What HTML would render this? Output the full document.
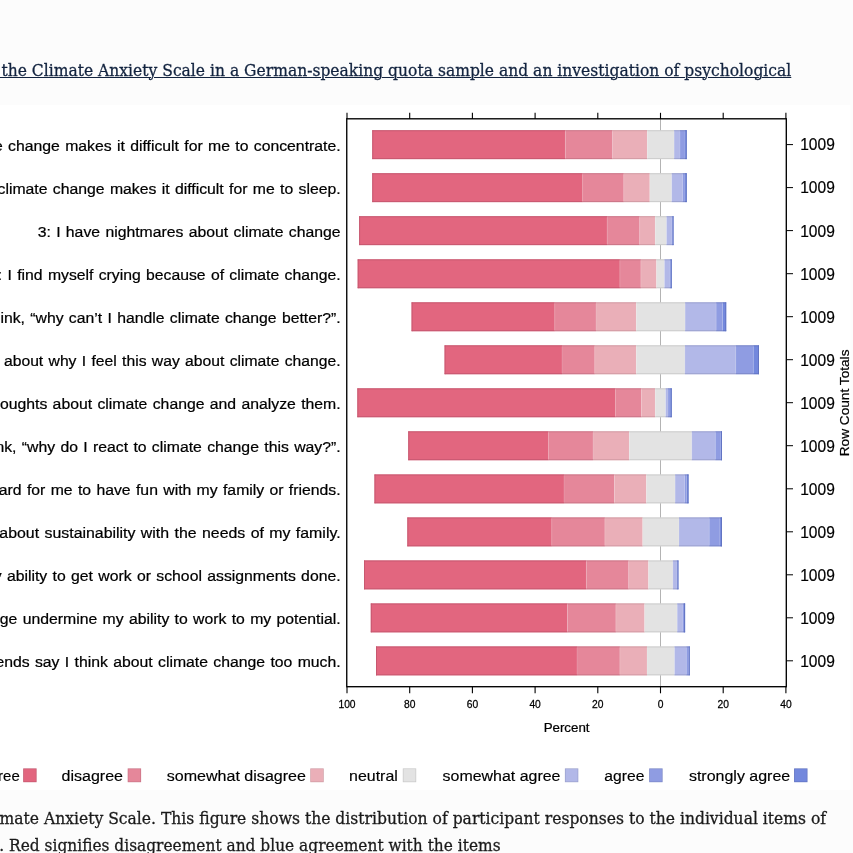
<!DOCTYPE html>
<html><head><meta charset="utf-8"><title>Climate Anxiety Scale figure</title>
<style>
html,body{margin:0;padding:0;}
body{width:853px;height:853px;overflow:hidden;position:relative;background:#fcfcfc;font-family:"DejaVu Serif","Liberation Serif",Georgia,serif;}
.t{position:absolute;white-space:nowrap;font-size:17.0px;line-height:26px;transform-origin:right center;}
.hd{right:61.4px;top:56.5px;color:#12233f;-webkit-text-stroke:0.3px #12233f;transform:scaleX(0.9144);}
.hd a{color:#12233f;text-decoration:underline;text-decoration-thickness:1.3px;text-underline-offset:1.1px;}
.c1{right:26.4px;top:805.3px;color:#1a1a1a;-webkit-text-stroke:0.3px #1a1a1a;transform:scaleX(0.9158);}
.c2{right:352.7px;top:832.1px;color:#1a1a1a;-webkit-text-stroke:0.3px #1a1a1a;transform:scaleX(0.9065);}
</style></head><body>
<div class="t hd"><a>Validation of the Climate Anxiety Scale in a German-speaking quota sample and an investigation of psychological</a></div>
<svg width="853" height="685" viewBox="0 104.5 853 685" style="position:absolute;left:0;top:104.5px" font-family="Liberation Sans, Arial, sans-serif" fill="#000">
<rect x="-5" y="104.5" width="855.3" height="684.8" fill="#ffffff"/>
<line x1="660.5" y1="118.5" x2="660.5" y2="686.5" stroke="#808080" stroke-width="0.6"/>
<rect x="372.3" y="129.8" width="193.0" height="28.8" fill="#E2667F"/>
<rect x="372.3" y="129.8" width="193.0" height="0.9" fill="#C4566E"/>
<rect x="372.3" y="157.7" width="193.0" height="0.9" fill="#C4566E"/>
<rect x="565.3" y="129.8" width="47.3" height="28.8" fill="#E5879A"/>
<rect x="565.3" y="129.8" width="47.3" height="0.9" fill="#C87486"/>
<rect x="565.3" y="157.7" width="47.3" height="0.9" fill="#C87486"/>
<rect x="612.6" y="129.8" width="34.7" height="28.8" fill="#EAAFB8"/>
<rect x="612.6" y="129.8" width="34.7" height="0.9" fill="#CF99A2"/>
<rect x="612.6" y="157.7" width="34.7" height="0.9" fill="#CF99A2"/>
<rect x="647.3" y="129.8" width="26.8" height="28.8" fill="#E3E3E3"/>
<rect x="647.3" y="129.8" width="26.8" height="0.9" fill="#C9C9C9"/>
<rect x="647.3" y="157.7" width="26.8" height="0.9" fill="#C9C9C9"/>
<rect x="674.1" y="129.8" width="5.9" height="28.8" fill="#B2B8E8"/>
<rect x="674.1" y="129.8" width="5.9" height="0.9" fill="#9AA0CC"/>
<rect x="674.1" y="157.7" width="5.9" height="0.9" fill="#9AA0CC"/>
<rect x="680.0" y="129.8" width="5.0" height="28.8" fill="#8F9CE2"/>
<rect x="680.0" y="129.8" width="5.0" height="0.9" fill="#7A86C6"/>
<rect x="680.0" y="157.7" width="5.0" height="0.9" fill="#7A86C6"/>
<rect x="685.0" y="129.8" width="1.7" height="28.8" fill="#7388DD"/>
<rect x="685.0" y="129.8" width="1.7" height="0.9" fill="#6072C0"/>
<rect x="685.0" y="157.7" width="1.7" height="0.9" fill="#6072C0"/>
<rect x="564.9" y="130.7" width="0.8" height="27.0" fill="#fff" fill-opacity="0.18"/>
<rect x="612.2" y="130.7" width="0.8" height="27.0" fill="#fff" fill-opacity="0.18"/>
<rect x="646.9" y="130.7" width="0.8" height="27.0" fill="#fff" fill-opacity="0.18"/>
<rect x="673.7" y="130.7" width="0.8" height="27.0" fill="#fff" fill-opacity="0.18"/>
<rect x="679.6" y="130.7" width="0.8" height="27.0" fill="#fff" fill-opacity="0.18"/>
<rect x="684.6" y="130.7" width="0.8" height="27.0" fill="#fff" fill-opacity="0.18"/>
<rect x="372.3" y="129.8" width="0.9" height="28.8" fill="#C4566E"/>
<rect x="685.8" y="129.8" width="0.9" height="28.8" fill="#6072C0"/>
<text transform="translate(340.6,150.50) scale(1.0320,1)" font-size="15.3" word-spacing="0.92" text-anchor="end" stroke="#000" stroke-width="0.22">1: Thinking about climate change makes it difficult for me to concentrate.</text>
<line x1="786.3" y1="144.1" x2="793" y2="144.1" stroke="#000" stroke-width="1.0"/>
<text transform="translate(800.2,149.90) scale(0.9721,1)" font-size="16" stroke="#000" stroke-width="0.2">1009</text>
<rect x="372.3" y="172.8" width="210.4" height="28.8" fill="#E2667F"/>
<rect x="372.3" y="172.8" width="210.4" height="0.9" fill="#C4566E"/>
<rect x="372.3" y="200.7" width="210.4" height="0.9" fill="#C4566E"/>
<rect x="582.7" y="172.8" width="41.1" height="28.8" fill="#E5879A"/>
<rect x="582.7" y="172.8" width="41.1" height="0.9" fill="#C87486"/>
<rect x="582.7" y="200.7" width="41.1" height="0.9" fill="#C87486"/>
<rect x="623.8" y="172.8" width="26.0" height="28.8" fill="#EAAFB8"/>
<rect x="623.8" y="172.8" width="26.0" height="0.9" fill="#CF99A2"/>
<rect x="623.8" y="200.7" width="26.0" height="0.9" fill="#CF99A2"/>
<rect x="649.8" y="172.8" width="21.9" height="28.8" fill="#E3E3E3"/>
<rect x="649.8" y="172.8" width="21.9" height="0.9" fill="#C9C9C9"/>
<rect x="649.8" y="200.7" width="21.9" height="0.9" fill="#C9C9C9"/>
<rect x="671.7" y="172.8" width="10.8" height="28.8" fill="#B2B8E8"/>
<rect x="671.7" y="172.8" width="10.8" height="0.9" fill="#9AA0CC"/>
<rect x="671.7" y="200.7" width="10.8" height="0.9" fill="#9AA0CC"/>
<rect x="682.5" y="172.8" width="2.5" height="28.8" fill="#8F9CE2"/>
<rect x="682.5" y="172.8" width="2.5" height="0.9" fill="#7A86C6"/>
<rect x="682.5" y="200.7" width="2.5" height="0.9" fill="#7A86C6"/>
<rect x="685.0" y="172.8" width="1.7" height="28.8" fill="#7388DD"/>
<rect x="685.0" y="172.8" width="1.7" height="0.9" fill="#6072C0"/>
<rect x="685.0" y="200.7" width="1.7" height="0.9" fill="#6072C0"/>
<rect x="582.3" y="173.7" width="0.8" height="27.0" fill="#fff" fill-opacity="0.18"/>
<rect x="623.4" y="173.7" width="0.8" height="27.0" fill="#fff" fill-opacity="0.18"/>
<rect x="649.4" y="173.7" width="0.8" height="27.0" fill="#fff" fill-opacity="0.18"/>
<rect x="671.3" y="173.7" width="0.8" height="27.0" fill="#fff" fill-opacity="0.18"/>
<rect x="682.1" y="173.7" width="0.8" height="27.0" fill="#fff" fill-opacity="0.18"/>
<rect x="684.6" y="173.7" width="0.8" height="27.0" fill="#fff" fill-opacity="0.18"/>
<rect x="372.3" y="172.8" width="0.9" height="28.8" fill="#C4566E"/>
<rect x="685.8" y="172.8" width="0.9" height="28.8" fill="#6072C0"/>
<text transform="translate(340.6,193.48) scale(1.0320,1)" font-size="15.3" word-spacing="0.92" text-anchor="end" stroke="#000" stroke-width="0.22">2: Thinking about climate change makes it difficult for me to sleep.</text>
<line x1="786.3" y1="187.1" x2="793" y2="187.1" stroke="#000" stroke-width="1.0"/>
<text transform="translate(800.2,192.95) scale(0.9721,1)" font-size="16" stroke="#000" stroke-width="0.2">1009</text>
<rect x="359.2" y="215.8" width="247.9" height="28.8" fill="#E2667F"/>
<rect x="359.2" y="215.8" width="247.9" height="0.9" fill="#C4566E"/>
<rect x="359.2" y="243.7" width="247.9" height="0.9" fill="#C4566E"/>
<rect x="607.1" y="215.8" width="32.6" height="28.8" fill="#E5879A"/>
<rect x="607.1" y="215.8" width="32.6" height="0.9" fill="#C87486"/>
<rect x="607.1" y="243.7" width="32.6" height="0.9" fill="#C87486"/>
<rect x="639.7" y="215.8" width="15.5" height="28.8" fill="#EAAFB8"/>
<rect x="639.7" y="215.8" width="15.5" height="0.9" fill="#CF99A2"/>
<rect x="639.7" y="243.7" width="15.5" height="0.9" fill="#CF99A2"/>
<rect x="655.2" y="215.8" width="11.3" height="28.8" fill="#E3E3E3"/>
<rect x="655.2" y="215.8" width="11.3" height="0.9" fill="#C9C9C9"/>
<rect x="655.2" y="243.7" width="11.3" height="0.9" fill="#C9C9C9"/>
<rect x="666.5" y="215.8" width="5.2" height="28.8" fill="#B2B8E8"/>
<rect x="666.5" y="215.8" width="5.2" height="0.9" fill="#9AA0CC"/>
<rect x="666.5" y="243.7" width="5.2" height="0.9" fill="#9AA0CC"/>
<rect x="671.7" y="215.8" width="0.9" height="28.8" fill="#8F9CE2"/>
<rect x="671.7" y="215.8" width="0.9" height="0.9" fill="#7A86C6"/>
<rect x="671.7" y="243.7" width="0.9" height="0.9" fill="#7A86C6"/>
<rect x="672.6" y="215.8" width="0.9" height="28.8" fill="#7388DD"/>
<rect x="672.6" y="215.8" width="0.9" height="0.9" fill="#6072C0"/>
<rect x="672.6" y="243.7" width="0.9" height="0.9" fill="#6072C0"/>
<rect x="606.7" y="216.7" width="0.8" height="27.0" fill="#fff" fill-opacity="0.18"/>
<rect x="639.3" y="216.7" width="0.8" height="27.0" fill="#fff" fill-opacity="0.18"/>
<rect x="654.8" y="216.7" width="0.8" height="27.0" fill="#fff" fill-opacity="0.18"/>
<rect x="666.1" y="216.7" width="0.8" height="27.0" fill="#fff" fill-opacity="0.18"/>
<rect x="359.2" y="215.8" width="0.9" height="28.8" fill="#C4566E"/>
<rect x="672.6" y="215.8" width="0.9" height="28.8" fill="#6072C0"/>
<text transform="translate(340.6,236.45) scale(1.0320,1)" font-size="15.3" word-spacing="0.92" text-anchor="end" stroke="#000" stroke-width="0.22">3: I have nightmares about climate change</text>
<line x1="786.3" y1="230.1" x2="793" y2="230.1" stroke="#000" stroke-width="1.0"/>
<text transform="translate(800.2,236.01) scale(0.9721,1)" font-size="16" stroke="#000" stroke-width="0.2">1009</text>
<rect x="357.7" y="258.9" width="262.2" height="28.8" fill="#E2667F"/>
<rect x="357.7" y="258.9" width="262.2" height="0.9" fill="#C4566E"/>
<rect x="357.7" y="286.8" width="262.2" height="0.9" fill="#C4566E"/>
<rect x="619.9" y="258.9" width="21.0" height="28.8" fill="#E5879A"/>
<rect x="619.9" y="258.9" width="21.0" height="0.9" fill="#C87486"/>
<rect x="619.9" y="286.8" width="21.0" height="0.9" fill="#C87486"/>
<rect x="640.9" y="258.9" width="15.6" height="28.8" fill="#EAAFB8"/>
<rect x="640.9" y="258.9" width="15.6" height="0.9" fill="#CF99A2"/>
<rect x="640.9" y="286.8" width="15.6" height="0.9" fill="#CF99A2"/>
<rect x="656.5" y="258.9" width="7.9" height="28.8" fill="#E3E3E3"/>
<rect x="656.5" y="258.9" width="7.9" height="0.9" fill="#C9C9C9"/>
<rect x="656.5" y="286.8" width="7.9" height="0.9" fill="#C9C9C9"/>
<rect x="664.4" y="258.9" width="5.2" height="28.8" fill="#B2B8E8"/>
<rect x="664.4" y="258.9" width="5.2" height="0.9" fill="#9AA0CC"/>
<rect x="664.4" y="286.8" width="5.2" height="0.9" fill="#9AA0CC"/>
<rect x="669.6" y="258.9" width="1.0" height="28.8" fill="#8F9CE2"/>
<rect x="669.6" y="258.9" width="1.0" height="0.9" fill="#7A86C6"/>
<rect x="669.6" y="286.8" width="1.0" height="0.9" fill="#7A86C6"/>
<rect x="670.6" y="258.9" width="1.1" height="28.8" fill="#7388DD"/>
<rect x="670.6" y="258.9" width="1.1" height="0.9" fill="#6072C0"/>
<rect x="670.6" y="286.8" width="1.1" height="0.9" fill="#6072C0"/>
<rect x="619.5" y="259.8" width="0.8" height="27.0" fill="#fff" fill-opacity="0.18"/>
<rect x="640.5" y="259.8" width="0.8" height="27.0" fill="#fff" fill-opacity="0.18"/>
<rect x="656.1" y="259.8" width="0.8" height="27.0" fill="#fff" fill-opacity="0.18"/>
<rect x="664.0" y="259.8" width="0.8" height="27.0" fill="#fff" fill-opacity="0.18"/>
<rect x="357.7" y="258.9" width="0.9" height="28.8" fill="#C4566E"/>
<rect x="670.8" y="258.9" width="0.9" height="28.8" fill="#6072C0"/>
<text transform="translate(340.6,279.43) scale(1.0305,1)" font-size="15.3" word-spacing="0.92" text-anchor="end" stroke="#000" stroke-width="0.22">4: I find myself crying because of climate change.</text>
<line x1="786.3" y1="273.2" x2="793" y2="273.2" stroke="#000" stroke-width="1.0"/>
<text transform="translate(800.2,279.06) scale(0.9721,1)" font-size="16" stroke="#000" stroke-width="0.2">1009</text>
<rect x="411.6" y="301.9" width="143.2" height="28.8" fill="#E2667F"/>
<rect x="411.6" y="301.9" width="143.2" height="0.9" fill="#C4566E"/>
<rect x="411.6" y="329.8" width="143.2" height="0.9" fill="#C4566E"/>
<rect x="554.8" y="301.9" width="41.2" height="28.8" fill="#E5879A"/>
<rect x="554.8" y="301.9" width="41.2" height="0.9" fill="#C87486"/>
<rect x="554.8" y="329.8" width="41.2" height="0.9" fill="#C87486"/>
<rect x="596.0" y="301.9" width="40.3" height="28.8" fill="#EAAFB8"/>
<rect x="596.0" y="301.9" width="40.3" height="0.9" fill="#CF99A2"/>
<rect x="596.0" y="329.8" width="40.3" height="0.9" fill="#CF99A2"/>
<rect x="636.3" y="301.9" width="48.8" height="28.8" fill="#E3E3E3"/>
<rect x="636.3" y="301.9" width="48.8" height="0.9" fill="#C9C9C9"/>
<rect x="636.3" y="329.8" width="48.8" height="0.9" fill="#C9C9C9"/>
<rect x="685.1" y="301.9" width="31.0" height="28.8" fill="#B2B8E8"/>
<rect x="685.1" y="301.9" width="31.0" height="0.9" fill="#9AA0CC"/>
<rect x="685.1" y="329.8" width="31.0" height="0.9" fill="#9AA0CC"/>
<rect x="716.1" y="301.9" width="6.5" height="28.8" fill="#8F9CE2"/>
<rect x="716.1" y="301.9" width="6.5" height="0.9" fill="#7A86C6"/>
<rect x="716.1" y="329.8" width="6.5" height="0.9" fill="#7A86C6"/>
<rect x="722.6" y="301.9" width="3.6" height="28.8" fill="#7388DD"/>
<rect x="722.6" y="301.9" width="3.6" height="0.9" fill="#6072C0"/>
<rect x="722.6" y="329.8" width="3.6" height="0.9" fill="#6072C0"/>
<rect x="554.4" y="302.8" width="0.8" height="27.0" fill="#fff" fill-opacity="0.18"/>
<rect x="595.6" y="302.8" width="0.8" height="27.0" fill="#fff" fill-opacity="0.18"/>
<rect x="635.9" y="302.8" width="0.8" height="27.0" fill="#fff" fill-opacity="0.18"/>
<rect x="684.7" y="302.8" width="0.8" height="27.0" fill="#fff" fill-opacity="0.18"/>
<rect x="715.7" y="302.8" width="0.8" height="27.0" fill="#fff" fill-opacity="0.18"/>
<rect x="722.2" y="302.8" width="0.8" height="27.0" fill="#fff" fill-opacity="0.18"/>
<rect x="411.6" y="301.9" width="0.9" height="28.8" fill="#C4566E"/>
<rect x="725.3" y="301.9" width="0.9" height="28.8" fill="#6072C0"/>
<text transform="translate(340.6,322.40) scale(1.0305,1)" font-size="15.3" word-spacing="0.92" text-anchor="end" stroke="#000" stroke-width="0.22">5: I think, “why can’t I handle climate change better?”.</text>
<line x1="786.3" y1="316.2" x2="793" y2="316.2" stroke="#000" stroke-width="1.0"/>
<text transform="translate(800.2,322.11) scale(0.9721,1)" font-size="16" stroke="#000" stroke-width="0.2">1009</text>
<rect x="444.6" y="344.9" width="117.4" height="28.8" fill="#E2667F"/>
<rect x="444.6" y="344.9" width="117.4" height="0.9" fill="#C4566E"/>
<rect x="444.6" y="372.8" width="117.4" height="0.9" fill="#C4566E"/>
<rect x="562.0" y="344.9" width="32.8" height="28.8" fill="#E5879A"/>
<rect x="562.0" y="344.9" width="32.8" height="0.9" fill="#C87486"/>
<rect x="562.0" y="372.8" width="32.8" height="0.9" fill="#C87486"/>
<rect x="594.8" y="344.9" width="41.5" height="28.8" fill="#EAAFB8"/>
<rect x="594.8" y="344.9" width="41.5" height="0.9" fill="#CF99A2"/>
<rect x="594.8" y="372.8" width="41.5" height="0.9" fill="#CF99A2"/>
<rect x="636.3" y="344.9" width="48.6" height="28.8" fill="#E3E3E3"/>
<rect x="636.3" y="344.9" width="48.6" height="0.9" fill="#C9C9C9"/>
<rect x="636.3" y="372.8" width="48.6" height="0.9" fill="#C9C9C9"/>
<rect x="684.9" y="344.9" width="50.9" height="28.8" fill="#B2B8E8"/>
<rect x="684.9" y="344.9" width="50.9" height="0.9" fill="#9AA0CC"/>
<rect x="684.9" y="372.8" width="50.9" height="0.9" fill="#9AA0CC"/>
<rect x="735.8" y="344.9" width="17.5" height="28.8" fill="#8F9CE2"/>
<rect x="735.8" y="344.9" width="17.5" height="0.9" fill="#7A86C6"/>
<rect x="735.8" y="372.8" width="17.5" height="0.9" fill="#7A86C6"/>
<rect x="753.3" y="344.9" width="5.6" height="28.8" fill="#7388DD"/>
<rect x="753.3" y="344.9" width="5.6" height="0.9" fill="#6072C0"/>
<rect x="753.3" y="372.8" width="5.6" height="0.9" fill="#6072C0"/>
<rect x="561.6" y="345.8" width="0.8" height="27.0" fill="#fff" fill-opacity="0.18"/>
<rect x="594.4" y="345.8" width="0.8" height="27.0" fill="#fff" fill-opacity="0.18"/>
<rect x="635.9" y="345.8" width="0.8" height="27.0" fill="#fff" fill-opacity="0.18"/>
<rect x="684.5" y="345.8" width="0.8" height="27.0" fill="#fff" fill-opacity="0.18"/>
<rect x="735.4" y="345.8" width="0.8" height="27.0" fill="#fff" fill-opacity="0.18"/>
<rect x="752.9" y="345.8" width="0.8" height="27.0" fill="#fff" fill-opacity="0.18"/>
<rect x="444.6" y="344.9" width="0.9" height="28.8" fill="#C4566E"/>
<rect x="758.0" y="344.9" width="0.9" height="28.8" fill="#6072C0"/>
<text transform="translate(340.6,365.38) scale(1.0269,1)" font-size="15.3" word-spacing="0.92" text-anchor="end" stroke="#000" stroke-width="0.22">6: I go away by myself and think about why I feel this way about climate change.</text>
<line x1="786.3" y1="359.2" x2="793" y2="359.2" stroke="#000" stroke-width="1.0"/>
<text transform="translate(800.2,365.17) scale(0.9721,1)" font-size="16" stroke="#000" stroke-width="0.2">1009</text>
<rect x="357.4" y="387.9" width="258.2" height="28.8" fill="#E2667F"/>
<rect x="357.4" y="387.9" width="258.2" height="0.9" fill="#C4566E"/>
<rect x="357.4" y="415.8" width="258.2" height="0.9" fill="#C4566E"/>
<rect x="615.6" y="387.9" width="25.9" height="28.8" fill="#E5879A"/>
<rect x="615.6" y="387.9" width="25.9" height="0.9" fill="#C87486"/>
<rect x="615.6" y="415.8" width="25.9" height="0.9" fill="#C87486"/>
<rect x="641.5" y="387.9" width="13.7" height="28.8" fill="#EAAFB8"/>
<rect x="641.5" y="387.9" width="13.7" height="0.9" fill="#CF99A2"/>
<rect x="641.5" y="415.8" width="13.7" height="0.9" fill="#CF99A2"/>
<rect x="655.2" y="387.9" width="10.4" height="28.8" fill="#E3E3E3"/>
<rect x="655.2" y="387.9" width="10.4" height="0.9" fill="#C9C9C9"/>
<rect x="655.2" y="415.8" width="10.4" height="0.9" fill="#C9C9C9"/>
<rect x="665.6" y="387.9" width="2.4" height="28.8" fill="#B2B8E8"/>
<rect x="665.6" y="387.9" width="2.4" height="0.9" fill="#9AA0CC"/>
<rect x="665.6" y="415.8" width="2.4" height="0.9" fill="#9AA0CC"/>
<rect x="668.0" y="387.9" width="2.2" height="28.8" fill="#8F9CE2"/>
<rect x="668.0" y="387.9" width="2.2" height="0.9" fill="#7A86C6"/>
<rect x="668.0" y="415.8" width="2.2" height="0.9" fill="#7A86C6"/>
<rect x="670.2" y="387.9" width="1.5" height="28.8" fill="#7388DD"/>
<rect x="670.2" y="387.9" width="1.5" height="0.9" fill="#6072C0"/>
<rect x="670.2" y="415.8" width="1.5" height="0.9" fill="#6072C0"/>
<rect x="615.2" y="388.8" width="0.8" height="27.0" fill="#fff" fill-opacity="0.18"/>
<rect x="641.1" y="388.8" width="0.8" height="27.0" fill="#fff" fill-opacity="0.18"/>
<rect x="654.8" y="388.8" width="0.8" height="27.0" fill="#fff" fill-opacity="0.18"/>
<rect x="665.2" y="388.8" width="0.8" height="27.0" fill="#fff" fill-opacity="0.18"/>
<rect x="667.6" y="388.8" width="0.8" height="27.0" fill="#fff" fill-opacity="0.18"/>
<rect x="357.4" y="387.9" width="0.9" height="28.8" fill="#C4566E"/>
<rect x="670.8" y="387.9" width="0.9" height="28.8" fill="#6072C0"/>
<text transform="translate(340.6,408.35) scale(1.0320,1)" font-size="15.3" word-spacing="0.92" text-anchor="end" stroke="#000" stroke-width="0.22">7: I write down my thoughts about climate change and analyze them.</text>
<line x1="786.3" y1="402.2" x2="793" y2="402.2" stroke="#000" stroke-width="1.0"/>
<text transform="translate(800.2,408.22) scale(0.9721,1)" font-size="16" stroke="#000" stroke-width="0.2">1009</text>
<rect x="408.3" y="430.9" width="140.3" height="28.8" fill="#E2667F"/>
<rect x="408.3" y="430.9" width="140.3" height="0.9" fill="#C4566E"/>
<rect x="408.3" y="458.8" width="140.3" height="0.9" fill="#C4566E"/>
<rect x="548.6" y="430.9" width="44.4" height="28.8" fill="#E5879A"/>
<rect x="548.6" y="430.9" width="44.4" height="0.9" fill="#C87486"/>
<rect x="548.6" y="458.8" width="44.4" height="0.9" fill="#C87486"/>
<rect x="593.0" y="430.9" width="36.3" height="28.8" fill="#EAAFB8"/>
<rect x="593.0" y="430.9" width="36.3" height="0.9" fill="#CF99A2"/>
<rect x="593.0" y="458.8" width="36.3" height="0.9" fill="#CF99A2"/>
<rect x="629.3" y="430.9" width="62.5" height="28.8" fill="#E3E3E3"/>
<rect x="629.3" y="430.9" width="62.5" height="0.9" fill="#C9C9C9"/>
<rect x="629.3" y="458.8" width="62.5" height="0.9" fill="#C9C9C9"/>
<rect x="691.8" y="430.9" width="23.5" height="28.8" fill="#B2B8E8"/>
<rect x="691.8" y="430.9" width="23.5" height="0.9" fill="#9AA0CC"/>
<rect x="691.8" y="458.8" width="23.5" height="0.9" fill="#9AA0CC"/>
<rect x="715.3" y="430.9" width="5.2" height="28.8" fill="#8F9CE2"/>
<rect x="715.3" y="430.9" width="5.2" height="0.9" fill="#7A86C6"/>
<rect x="715.3" y="458.8" width="5.2" height="0.9" fill="#7A86C6"/>
<rect x="720.5" y="430.9" width="1.5" height="28.8" fill="#7388DD"/>
<rect x="720.5" y="430.9" width="1.5" height="0.9" fill="#6072C0"/>
<rect x="720.5" y="458.8" width="1.5" height="0.9" fill="#6072C0"/>
<rect x="548.2" y="431.8" width="0.8" height="27.0" fill="#fff" fill-opacity="0.18"/>
<rect x="592.6" y="431.8" width="0.8" height="27.0" fill="#fff" fill-opacity="0.18"/>
<rect x="628.9" y="431.8" width="0.8" height="27.0" fill="#fff" fill-opacity="0.18"/>
<rect x="691.4" y="431.8" width="0.8" height="27.0" fill="#fff" fill-opacity="0.18"/>
<rect x="714.9" y="431.8" width="0.8" height="27.0" fill="#fff" fill-opacity="0.18"/>
<rect x="408.3" y="430.9" width="0.9" height="28.8" fill="#C4566E"/>
<rect x="721.1" y="430.9" width="0.9" height="28.8" fill="#6072C0"/>
<text transform="translate(340.6,451.33) scale(1.0320,1)" font-size="15.3" word-spacing="0.92" text-anchor="end" stroke="#000" stroke-width="0.22">8: I think, “why do I react to climate change this way?”.</text>
<line x1="786.3" y1="445.2" x2="793" y2="445.2" stroke="#000" stroke-width="1.0"/>
<text transform="translate(800.2,451.27) scale(0.9721,1)" font-size="16" stroke="#000" stroke-width="0.2">1009</text>
<rect x="374.5" y="474.0" width="189.5" height="28.8" fill="#E2667F"/>
<rect x="374.5" y="474.0" width="189.5" height="0.9" fill="#C4566E"/>
<rect x="374.5" y="501.9" width="189.5" height="0.9" fill="#C4566E"/>
<rect x="564.0" y="474.0" width="50.4" height="28.8" fill="#E5879A"/>
<rect x="564.0" y="474.0" width="50.4" height="0.9" fill="#C87486"/>
<rect x="564.0" y="501.9" width="50.4" height="0.9" fill="#C87486"/>
<rect x="614.4" y="474.0" width="32.0" height="28.8" fill="#EAAFB8"/>
<rect x="614.4" y="474.0" width="32.0" height="0.9" fill="#CF99A2"/>
<rect x="614.4" y="501.9" width="32.0" height="0.9" fill="#CF99A2"/>
<rect x="646.4" y="474.0" width="28.7" height="28.8" fill="#E3E3E3"/>
<rect x="646.4" y="474.0" width="28.7" height="0.9" fill="#C9C9C9"/>
<rect x="646.4" y="501.9" width="28.7" height="0.9" fill="#C9C9C9"/>
<rect x="675.1" y="474.0" width="9.4" height="28.8" fill="#B2B8E8"/>
<rect x="675.1" y="474.0" width="9.4" height="0.9" fill="#9AA0CC"/>
<rect x="675.1" y="501.9" width="9.4" height="0.9" fill="#9AA0CC"/>
<rect x="684.5" y="474.0" width="2.3" height="28.8" fill="#8F9CE2"/>
<rect x="684.5" y="474.0" width="2.3" height="0.9" fill="#7A86C6"/>
<rect x="684.5" y="501.9" width="2.3" height="0.9" fill="#7A86C6"/>
<rect x="686.8" y="474.0" width="1.7" height="28.8" fill="#7388DD"/>
<rect x="686.8" y="474.0" width="1.7" height="0.9" fill="#6072C0"/>
<rect x="686.8" y="501.9" width="1.7" height="0.9" fill="#6072C0"/>
<rect x="563.6" y="474.9" width="0.8" height="27.0" fill="#fff" fill-opacity="0.18"/>
<rect x="614.0" y="474.9" width="0.8" height="27.0" fill="#fff" fill-opacity="0.18"/>
<rect x="646.0" y="474.9" width="0.8" height="27.0" fill="#fff" fill-opacity="0.18"/>
<rect x="674.7" y="474.9" width="0.8" height="27.0" fill="#fff" fill-opacity="0.18"/>
<rect x="684.1" y="474.9" width="0.8" height="27.0" fill="#fff" fill-opacity="0.18"/>
<rect x="686.4" y="474.9" width="0.8" height="27.0" fill="#fff" fill-opacity="0.18"/>
<rect x="374.5" y="474.0" width="0.9" height="28.8" fill="#C4566E"/>
<rect x="687.6" y="474.0" width="0.9" height="28.8" fill="#6072C0"/>
<text transform="translate(340.6,494.30) scale(1.0320,1)" font-size="15.3" word-spacing="0.92" text-anchor="end" stroke="#000" stroke-width="0.22">9: My concerns about climate change make it hard for me to have fun with my family or friends.</text>
<line x1="786.3" y1="488.3" x2="793" y2="488.3" stroke="#000" stroke-width="1.0"/>
<text transform="translate(800.2,494.32) scale(0.9721,1)" font-size="16" stroke="#000" stroke-width="0.2">1009</text>
<rect x="407.4" y="517.0" width="144.4" height="28.8" fill="#E2667F"/>
<rect x="407.4" y="517.0" width="144.4" height="0.9" fill="#C4566E"/>
<rect x="407.4" y="544.9" width="144.4" height="0.9" fill="#C4566E"/>
<rect x="551.8" y="517.0" width="53.1" height="28.8" fill="#E5879A"/>
<rect x="551.8" y="517.0" width="53.1" height="0.9" fill="#C87486"/>
<rect x="551.8" y="544.9" width="53.1" height="0.9" fill="#C87486"/>
<rect x="604.9" y="517.0" width="37.8" height="28.8" fill="#EAAFB8"/>
<rect x="604.9" y="517.0" width="37.8" height="0.9" fill="#CF99A2"/>
<rect x="604.9" y="544.9" width="37.8" height="0.9" fill="#CF99A2"/>
<rect x="642.7" y="517.0" width="36.3" height="28.8" fill="#E3E3E3"/>
<rect x="642.7" y="517.0" width="36.3" height="0.9" fill="#C9C9C9"/>
<rect x="642.7" y="544.9" width="36.3" height="0.9" fill="#C9C9C9"/>
<rect x="679.0" y="517.0" width="30.2" height="28.8" fill="#B2B8E8"/>
<rect x="679.0" y="517.0" width="30.2" height="0.9" fill="#9AA0CC"/>
<rect x="679.0" y="544.9" width="30.2" height="0.9" fill="#9AA0CC"/>
<rect x="709.2" y="517.0" width="10.7" height="28.8" fill="#8F9CE2"/>
<rect x="709.2" y="517.0" width="10.7" height="0.9" fill="#7A86C6"/>
<rect x="709.2" y="544.9" width="10.7" height="0.9" fill="#7A86C6"/>
<rect x="719.9" y="517.0" width="2.1" height="28.8" fill="#7388DD"/>
<rect x="719.9" y="517.0" width="2.1" height="0.9" fill="#6072C0"/>
<rect x="719.9" y="544.9" width="2.1" height="0.9" fill="#6072C0"/>
<rect x="551.4" y="517.9" width="0.8" height="27.0" fill="#fff" fill-opacity="0.18"/>
<rect x="604.5" y="517.9" width="0.8" height="27.0" fill="#fff" fill-opacity="0.18"/>
<rect x="642.3" y="517.9" width="0.8" height="27.0" fill="#fff" fill-opacity="0.18"/>
<rect x="678.6" y="517.9" width="0.8" height="27.0" fill="#fff" fill-opacity="0.18"/>
<rect x="708.8" y="517.9" width="0.8" height="27.0" fill="#fff" fill-opacity="0.18"/>
<rect x="719.5" y="517.9" width="0.8" height="27.0" fill="#fff" fill-opacity="0.18"/>
<rect x="407.4" y="517.0" width="0.9" height="28.8" fill="#C4566E"/>
<rect x="721.1" y="517.0" width="0.9" height="28.8" fill="#6072C0"/>
<text transform="translate(340.6,537.28) scale(1.0400,1)" font-size="15.3" word-spacing="0.92" text-anchor="end" stroke="#000" stroke-width="0.22">10: I have problems balancing my concerns about sustainability with the needs of my family.</text>
<line x1="786.3" y1="531.3" x2="793" y2="531.3" stroke="#000" stroke-width="1.0"/>
<text transform="translate(800.2,537.38) scale(0.9721,1)" font-size="16" stroke="#000" stroke-width="0.2">1009</text>
<rect x="364.1" y="560.0" width="222.2" height="28.8" fill="#E2667F"/>
<rect x="364.1" y="560.0" width="222.2" height="0.9" fill="#C4566E"/>
<rect x="364.1" y="587.9" width="222.2" height="0.9" fill="#C4566E"/>
<rect x="586.3" y="560.0" width="42.4" height="28.8" fill="#E5879A"/>
<rect x="586.3" y="560.0" width="42.4" height="0.9" fill="#C87486"/>
<rect x="586.3" y="587.9" width="42.4" height="0.9" fill="#C87486"/>
<rect x="628.7" y="560.0" width="19.8" height="28.8" fill="#EAAFB8"/>
<rect x="628.7" y="560.0" width="19.8" height="0.9" fill="#CF99A2"/>
<rect x="628.7" y="587.9" width="19.8" height="0.9" fill="#CF99A2"/>
<rect x="648.5" y="560.0" width="24.4" height="28.8" fill="#E3E3E3"/>
<rect x="648.5" y="560.0" width="24.4" height="0.9" fill="#C9C9C9"/>
<rect x="648.5" y="587.9" width="24.4" height="0.9" fill="#C9C9C9"/>
<rect x="672.9" y="560.0" width="3.7" height="28.8" fill="#B2B8E8"/>
<rect x="672.9" y="560.0" width="3.7" height="0.9" fill="#9AA0CC"/>
<rect x="672.9" y="587.9" width="3.7" height="0.9" fill="#9AA0CC"/>
<rect x="676.6" y="560.0" width="1.0" height="28.8" fill="#8F9CE2"/>
<rect x="676.6" y="560.0" width="1.0" height="0.9" fill="#7A86C6"/>
<rect x="676.6" y="587.9" width="1.0" height="0.9" fill="#7A86C6"/>
<rect x="677.6" y="560.0" width="0.8" height="28.8" fill="#7388DD"/>
<rect x="677.6" y="560.0" width="0.8" height="0.9" fill="#6072C0"/>
<rect x="677.6" y="587.9" width="0.8" height="0.9" fill="#6072C0"/>
<rect x="585.9" y="560.9" width="0.8" height="27.0" fill="#fff" fill-opacity="0.18"/>
<rect x="628.3" y="560.9" width="0.8" height="27.0" fill="#fff" fill-opacity="0.18"/>
<rect x="648.1" y="560.9" width="0.8" height="27.0" fill="#fff" fill-opacity="0.18"/>
<rect x="672.5" y="560.9" width="0.8" height="27.0" fill="#fff" fill-opacity="0.18"/>
<rect x="364.1" y="560.0" width="0.9" height="28.8" fill="#C4566E"/>
<rect x="677.5" y="560.0" width="0.9" height="28.8" fill="#6072C0"/>
<text transform="translate(340.6,580.25) scale(1.0320,1)" font-size="15.3" word-spacing="0.92" text-anchor="end" stroke="#000" stroke-width="0.22">11: My concerns about climate change interfere with my ability to get work or school assignments done.</text>
<line x1="786.3" y1="574.3" x2="793" y2="574.3" stroke="#000" stroke-width="1.0"/>
<text transform="translate(800.2,580.43) scale(0.9721,1)" font-size="16" stroke="#000" stroke-width="0.2">1009</text>
<rect x="370.8" y="603.0" width="196.6" height="28.8" fill="#E2667F"/>
<rect x="370.8" y="603.0" width="196.6" height="0.9" fill="#C4566E"/>
<rect x="370.8" y="630.9" width="196.6" height="0.9" fill="#C4566E"/>
<rect x="567.4" y="603.0" width="48.5" height="28.8" fill="#E5879A"/>
<rect x="567.4" y="603.0" width="48.5" height="0.9" fill="#C87486"/>
<rect x="567.4" y="630.9" width="48.5" height="0.9" fill="#C87486"/>
<rect x="615.9" y="603.0" width="28.7" height="28.8" fill="#EAAFB8"/>
<rect x="615.9" y="603.0" width="28.7" height="0.9" fill="#CF99A2"/>
<rect x="615.9" y="630.9" width="28.7" height="0.9" fill="#CF99A2"/>
<rect x="644.6" y="603.0" width="32.6" height="28.8" fill="#E3E3E3"/>
<rect x="644.6" y="603.0" width="32.6" height="0.9" fill="#C9C9C9"/>
<rect x="644.6" y="630.9" width="32.6" height="0.9" fill="#C9C9C9"/>
<rect x="677.2" y="603.0" width="5.5" height="28.8" fill="#B2B8E8"/>
<rect x="677.2" y="603.0" width="5.5" height="0.9" fill="#9AA0CC"/>
<rect x="677.2" y="630.9" width="5.5" height="0.9" fill="#9AA0CC"/>
<rect x="682.7" y="603.0" width="1.3" height="28.8" fill="#8F9CE2"/>
<rect x="682.7" y="603.0" width="1.3" height="0.9" fill="#7A86C6"/>
<rect x="682.7" y="630.9" width="1.3" height="0.9" fill="#7A86C6"/>
<rect x="684.0" y="603.0" width="1.1" height="28.8" fill="#7388DD"/>
<rect x="684.0" y="603.0" width="1.1" height="0.9" fill="#6072C0"/>
<rect x="684.0" y="630.9" width="1.1" height="0.9" fill="#6072C0"/>
<rect x="567.0" y="603.9" width="0.8" height="27.0" fill="#fff" fill-opacity="0.18"/>
<rect x="615.5" y="603.9" width="0.8" height="27.0" fill="#fff" fill-opacity="0.18"/>
<rect x="644.2" y="603.9" width="0.8" height="27.0" fill="#fff" fill-opacity="0.18"/>
<rect x="676.8" y="603.9" width="0.8" height="27.0" fill="#fff" fill-opacity="0.18"/>
<rect x="370.8" y="603.0" width="0.9" height="28.8" fill="#C4566E"/>
<rect x="684.2" y="603.0" width="0.9" height="28.8" fill="#6072C0"/>
<text transform="translate(340.6,623.23) scale(1.0320,1)" font-size="15.3" word-spacing="0.92" text-anchor="end" stroke="#000" stroke-width="0.22">12: My concerns about climate change undermine my ability to work to my potential.</text>
<line x1="786.3" y1="617.3" x2="793" y2="617.3" stroke="#000" stroke-width="1.0"/>
<text transform="translate(800.2,623.48) scale(0.9721,1)" font-size="16" stroke="#000" stroke-width="0.2">1009</text>
<rect x="376.0" y="646.0" width="201.0" height="28.8" fill="#E2667F"/>
<rect x="376.0" y="646.0" width="201.0" height="0.9" fill="#C4566E"/>
<rect x="376.0" y="673.9" width="201.0" height="0.9" fill="#C4566E"/>
<rect x="577.0" y="646.0" width="42.9" height="28.8" fill="#E5879A"/>
<rect x="577.0" y="646.0" width="42.9" height="0.9" fill="#C87486"/>
<rect x="577.0" y="673.9" width="42.9" height="0.9" fill="#C87486"/>
<rect x="619.9" y="646.0" width="27.1" height="28.8" fill="#EAAFB8"/>
<rect x="619.9" y="646.0" width="27.1" height="0.9" fill="#CF99A2"/>
<rect x="619.9" y="673.9" width="27.1" height="0.9" fill="#CF99A2"/>
<rect x="647.0" y="646.0" width="27.5" height="28.8" fill="#E3E3E3"/>
<rect x="647.0" y="646.0" width="27.5" height="0.9" fill="#C9C9C9"/>
<rect x="647.0" y="673.9" width="27.5" height="0.9" fill="#C9C9C9"/>
<rect x="674.5" y="646.0" width="11.8" height="28.8" fill="#B2B8E8"/>
<rect x="674.5" y="646.0" width="11.8" height="0.9" fill="#9AA0CC"/>
<rect x="674.5" y="673.9" width="11.8" height="0.9" fill="#9AA0CC"/>
<rect x="686.3" y="646.0" width="2.5" height="28.8" fill="#8F9CE2"/>
<rect x="686.3" y="646.0" width="2.5" height="0.9" fill="#7A86C6"/>
<rect x="686.3" y="673.9" width="2.5" height="0.9" fill="#7A86C6"/>
<rect x="688.8" y="646.0" width="0.9" height="28.8" fill="#7388DD"/>
<rect x="688.8" y="646.0" width="0.9" height="0.9" fill="#6072C0"/>
<rect x="688.8" y="673.9" width="0.9" height="0.9" fill="#6072C0"/>
<rect x="576.6" y="646.9" width="0.8" height="27.0" fill="#fff" fill-opacity="0.18"/>
<rect x="619.5" y="646.9" width="0.8" height="27.0" fill="#fff" fill-opacity="0.18"/>
<rect x="646.6" y="646.9" width="0.8" height="27.0" fill="#fff" fill-opacity="0.18"/>
<rect x="674.1" y="646.9" width="0.8" height="27.0" fill="#fff" fill-opacity="0.18"/>
<rect x="685.9" y="646.9" width="0.8" height="27.0" fill="#fff" fill-opacity="0.18"/>
<rect x="376.0" y="646.0" width="0.9" height="28.8" fill="#C4566E"/>
<rect x="688.8" y="646.0" width="0.9" height="28.8" fill="#6072C0"/>
<text transform="translate(340.6,666.20) scale(1.0320,1)" font-size="15.3" word-spacing="0.92" text-anchor="end" stroke="#000" stroke-width="0.22">13: My friends say I think about climate change too much.</text>
<line x1="786.3" y1="660.3" x2="793" y2="660.3" stroke="#000" stroke-width="1.0"/>
<text transform="translate(800.2,666.54) scale(0.9721,1)" font-size="16" stroke="#000" stroke-width="0.2">1009</text>
<rect x="346.75" y="118.30" width="439.55" height="567.90" fill="none" stroke="#000" stroke-width="1.35"/>
<line x1="347.0" y1="118.5" x2="347.0" y2="112.3" stroke="#000" stroke-width="1.1"/>
<line x1="347.0" y1="686.5" x2="347.0" y2="692.8" stroke="#000" stroke-width="1.1"/>
<text transform="translate(347.0,707.8) scale(0.945,1)" font-size="10.9" text-anchor="middle" stroke="#000" stroke-width="0.25">100</text>
<line x1="409.7" y1="118.5" x2="409.7" y2="112.3" stroke="#000" stroke-width="1.1"/>
<line x1="409.7" y1="686.5" x2="409.7" y2="692.8" stroke="#000" stroke-width="1.1"/>
<text transform="translate(409.7,707.8) scale(0.945,1)" font-size="10.9" text-anchor="middle" stroke="#000" stroke-width="0.25">80</text>
<line x1="472.4" y1="118.5" x2="472.4" y2="112.3" stroke="#000" stroke-width="1.1"/>
<line x1="472.4" y1="686.5" x2="472.4" y2="692.8" stroke="#000" stroke-width="1.1"/>
<text transform="translate(472.4,707.8) scale(0.945,1)" font-size="10.9" text-anchor="middle" stroke="#000" stroke-width="0.25">60</text>
<line x1="535.1" y1="118.5" x2="535.1" y2="112.3" stroke="#000" stroke-width="1.1"/>
<line x1="535.1" y1="686.5" x2="535.1" y2="692.8" stroke="#000" stroke-width="1.1"/>
<text transform="translate(535.1,707.8) scale(0.945,1)" font-size="10.9" text-anchor="middle" stroke="#000" stroke-width="0.25">40</text>
<line x1="597.8" y1="118.5" x2="597.8" y2="112.3" stroke="#000" stroke-width="1.1"/>
<line x1="597.8" y1="686.5" x2="597.8" y2="692.8" stroke="#000" stroke-width="1.1"/>
<text transform="translate(597.8,707.8) scale(0.945,1)" font-size="10.9" text-anchor="middle" stroke="#000" stroke-width="0.25">20</text>
<line x1="660.5" y1="118.5" x2="660.5" y2="112.3" stroke="#000" stroke-width="1.1"/>
<line x1="660.5" y1="686.5" x2="660.5" y2="692.8" stroke="#000" stroke-width="1.1"/>
<text transform="translate(660.5,707.8) scale(0.945,1)" font-size="10.9" text-anchor="middle" stroke="#000" stroke-width="0.25">0</text>
<line x1="723.2" y1="118.5" x2="723.2" y2="112.3" stroke="#000" stroke-width="1.1"/>
<line x1="723.2" y1="686.5" x2="723.2" y2="692.8" stroke="#000" stroke-width="1.1"/>
<text transform="translate(723.2,707.8) scale(0.945,1)" font-size="10.9" text-anchor="middle" stroke="#000" stroke-width="0.25">20</text>
<line x1="785.9" y1="118.5" x2="785.9" y2="112.3" stroke="#000" stroke-width="1.1"/>
<line x1="785.9" y1="686.5" x2="785.9" y2="692.8" stroke="#000" stroke-width="1.1"/>
<text transform="translate(785.9,707.8) scale(0.945,1)" font-size="10.9" text-anchor="middle" stroke="#000" stroke-width="0.25">40</text>
<text transform="translate(566.6,731.4) scale(1.0267,1)" font-size="13" text-anchor="middle" stroke="#000" stroke-width="0.22">Percent</text>
<text transform="translate(849.0,402.4) rotate(-90) scale(1.0503,1)" font-size="13" text-anchor="middle" stroke="#000" stroke-width="0.2">Row Count Totals</text>
<text transform="translate(19.7,780.5) scale(1.0320,1)" font-size="14.5" text-anchor="end" stroke="#000" stroke-width="0.15">strongly disagree</text>
<rect x="23.2" y="767.9" width="13.4" height="13.8" fill="#C4566E"/><rect x="23.9" y="768.6" width="12" height="12.4" fill="#E2667F"/>
<text transform="translate(123.0,780.5) scale(1.1075,1)" font-size="14.5" text-anchor="end" stroke="#000" stroke-width="0.15">disagree</text>
<rect x="127.7" y="767.9" width="13.4" height="13.8" fill="#C87486"/><rect x="128.4" y="768.6" width="12" height="12.4" fill="#E5879A"/>
<text transform="translate(306.0,780.5) scale(1.1087,1)" font-size="14.5" text-anchor="end" stroke="#000" stroke-width="0.15">somewhat disagree</text>
<rect x="310.3" y="767.9" width="13.4" height="13.8" fill="#CF99A2"/><rect x="311.0" y="768.6" width="12" height="12.4" fill="#EAAFB8"/>
<text transform="translate(397.79999999999995,780.5) scale(1.0984,1)" font-size="14.5" text-anchor="end" stroke="#000" stroke-width="0.15">neutral</text>
<rect x="402.8" y="767.9" width="13.4" height="13.8" fill="#C9C9C9"/><rect x="403.5" y="768.6" width="12" height="12.4" fill="#E3E3E3"/>
<text transform="translate(560.5,780.5) scale(1.1008,1)" font-size="14.5" text-anchor="end" stroke="#000" stroke-width="0.15">somewhat agree</text>
<rect x="564.9" y="767.9" width="13.4" height="13.8" fill="#9AA0CC"/><rect x="565.6" y="768.6" width="12" height="12.4" fill="#B2B8E8"/>
<text transform="translate(644.4,780.5) scale(1.0813,1)" font-size="14.5" text-anchor="end" stroke="#000" stroke-width="0.15">agree</text>
<rect x="649.2" y="767.9" width="13.4" height="13.8" fill="#7A86C6"/><rect x="649.9000000000001" y="768.6" width="12" height="12.4" fill="#8F9CE2"/>
<text transform="translate(790.1999999999999,780.5) scale(1.1036,1)" font-size="14.5" text-anchor="end" stroke="#000" stroke-width="0.15">strongly agree</text>
<rect x="794.1" y="767.9" width="13.4" height="13.8" fill="#6072C0"/><rect x="794.8000000000001" y="768.6" width="12" height="12.4" fill="#7388DD"/>
</svg>
<div class="t c1">Item response distribution of the Climate Anxiety Scale. This figure shows the distribution of participant responses to the individual items of</div>
<div class="t c2">the Climate Anxiety Scale. Red signifies disagreement and blue agreement with the items</div>
</body></html>
